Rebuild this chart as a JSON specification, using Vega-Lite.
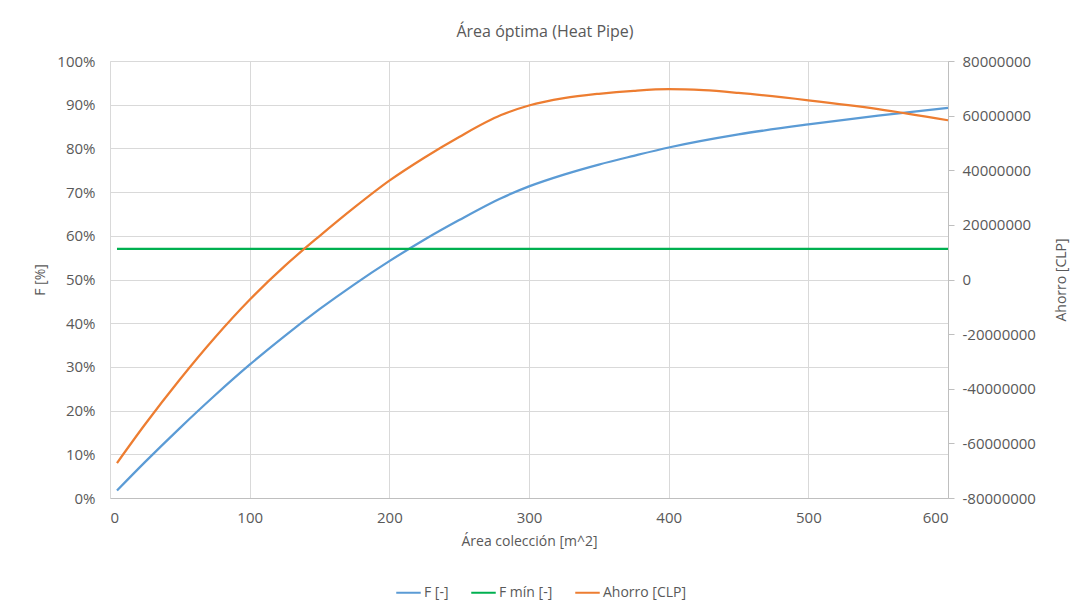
{
  "$schema": "https://vega.github.io/schema/vega-lite/v6.json",
  "width": 838,
  "height": 437,
  "autosize": {"type": "none"},
  "padding": {"left": 110, "top": 61, "right": 130, "bottom": 115},
  "background": "white",
  "title": {"text": "Área óptima (Heat Pipe)", "anchor": "middle", "dx": 16, "offset": 14, "fontSize": 16, "font": "Open Sans", "fontWeight": "normal", "color": "#595959"},
  "config": {
    "font": "Open Sans",
    "view": {"stroke": null},
    "axis": {"labelColor": "#595959", "titleColor": "#595959", "labelFont": "Open Sans", "titleFont": "Open Sans", "titleFontWeight": "normal", "gridColor": "#d9d9d9", "domainColor": "#d9d9d9", "tickColor": "#bfbfbf"},
    "legend": {"labelColor": "#595959", "labelFont": "Open Sans"}
  },
  "data": {"values": [
    {"area": 5, "serie": "F [-]", "valor": 0.017},
    {"area": 25, "serie": "F [-]", "valor": 0.082},
    {"area": 50, "serie": "F [-]", "valor": 0.160},
    {"area": 75, "serie": "F [-]", "valor": 0.2345},
    {"area": 100, "serie": "F [-]", "valor": 0.305},
    {"area": 125, "serie": "F [-]", "valor": 0.3705},
    {"area": 150, "serie": "F [-]", "valor": 0.432},
    {"area": 175, "serie": "F [-]", "valor": 0.489},
    {"area": 200, "serie": "F [-]", "valor": 0.542},
    {"area": 225, "serie": "F [-]", "valor": 0.591},
    {"area": 250, "serie": "F [-]", "valor": 0.636},
    {"area": 280, "serie": "F [-]", "valor": 0.686},
    {"area": 300, "serie": "F [-]", "valor": 0.713},
    {"area": 325, "serie": "F [-]", "valor": 0.740},
    {"area": 350, "serie": "F [-]", "valor": 0.763},
    {"area": 375, "serie": "F [-]", "valor": 0.783},
    {"area": 400, "serie": "F [-]", "valor": 0.802},
    {"area": 450, "serie": "F [-]", "valor": 0.832},
    {"area": 500, "serie": "F [-]", "valor": 0.855},
    {"area": 550, "serie": "F [-]", "valor": 0.875},
    {"area": 600, "serie": "F [-]", "valor": 0.893},
    {"area": 5, "serie": "F mín [-]", "valor": 0.57},
    {"area": 600, "serie": "F mín [-]", "valor": 0.57},
    {"area": 5, "serie": "Ahorro [CLP]", "valor": -67200000},
    {"area": 25, "serie": "Ahorro [CLP]", "valor": -53100000},
    {"area": 50, "serie": "Ahorro [CLP]", "valor": -36600000},
    {"area": 75, "serie": "Ahorro [CLP]", "valor": -21300000},
    {"area": 100, "serie": "Ahorro [CLP]", "valor": -7400000},
    {"area": 125, "serie": "Ahorro [CLP]", "valor": 4900000},
    {"area": 150, "serie": "Ahorro [CLP]", "valor": 15900000},
    {"area": 175, "serie": "Ahorro [CLP]", "valor": 26400000},
    {"area": 200, "serie": "Ahorro [CLP]", "valor": 36200000},
    {"area": 225, "serie": "Ahorro [CLP]", "valor": 44600000},
    {"area": 250, "serie": "Ahorro [CLP]", "valor": 52200000},
    {"area": 280, "serie": "Ahorro [CLP]", "valor": 60200000},
    {"area": 300, "serie": "Ahorro [CLP]", "valor": 63700000},
    {"area": 325, "serie": "Ahorro [CLP]", "valor": 66400000},
    {"area": 350, "serie": "Ahorro [CLP]", "valor": 68000000},
    {"area": 375, "serie": "Ahorro [CLP]", "valor": 69100000},
    {"area": 400, "serie": "Ahorro [CLP]", "valor": 69700000},
    {"area": 425, "serie": "Ahorro [CLP]", "valor": 69300000},
    {"area": 450, "serie": "Ahorro [CLP]", "valor": 68300000},
    {"area": 500, "serie": "Ahorro [CLP]", "valor": 65600000},
    {"area": 550, "serie": "Ahorro [CLP]", "valor": 62400000},
    {"area": 600, "serie": "Ahorro [CLP]", "valor": 58300000}
  ]},
  "encoding": {
    "x": {"field": "area", "type": "quantitative", "scale": {"domain": [0, 600], "nice": false},
      "axis": {"title": "Área colección [m^2]", "values": [0, 100, 200, 300, 400, 500, 600], "ticks": false, "labelPadding": 12, "labelFontSize": 15, "titleFontSize": 14, "titlePadding": 9, "domainColor": "#bfbfbf", "grid": true}},
    "color": {"field": "serie", "type": "nominal",
      "scale": {"domain": ["F [-]", "F mín [-]", "Ahorro [CLP]"], "range": ["#5b9bd5", "#00b050", "#ed7d31"]},
      "legend": {"title": null, "orient": "none", "legendX": 285, "legendY": 518, "direction": "horizontal", "symbolType": "stroke", "symbolStrokeWidth": 2, "symbolSize": 600, "labelFontSize": 14, "labelOffset": 2, "columnPadding": 18}}
  },
  "layer": [
    {
      "transform": [{"filter": "datum.serie !== 'Ahorro [CLP]'"}],
      "mark": {"type": "line", "strokeWidth": 2.25, "interpolate": "monotone"},
      "encoding": {
        "y": {"field": "valor", "type": "quantitative", "scale": {"domain": [0, 1], "nice": false},
          "axis": {"title": "F [%]", "orient": "left", "format": ".0%", "values": [0, 0.1, 0.2, 0.3, 0.4, 0.5, 0.6, 0.7, 0.8, 0.9, 1], "ticks": false, "labelPadding": 15, "labelFontSize": 15, "titleFontSize": 14, "titlePadding": 9, "grid": true}}
      }
    },
    {
      "transform": [{"filter": "datum.serie === 'Ahorro [CLP]'"}],
      "mark": {"type": "line", "strokeWidth": 2.25, "interpolate": "monotone"},
      "encoding": {
        "y": {"field": "valor", "type": "quantitative", "scale": {"domain": [-80000000, 80000000], "nice": false},
          "axis": {"title": "Ahorro [CLP]", "orient": "right", "titleAngle": 270, "titleBaseline": "bottom", "values": [-80000000, -60000000, -40000000, -20000000, 0, 20000000, 40000000, 60000000, 80000000], "labelExpr": "replace(format(datum.value, 'd'), '\u2212', '-')", "tickSize": 6, "labelPadding": 8, "labelFontSize": 15, "titleFontSize": 14, "titlePadding": 33, "grid": false, "domainColor": "#bfbfbf"}}
      }
    }
  ],
  "resolve": {"scale": {"y": "independent"}, "axis": {"y": "independent"}}
}
